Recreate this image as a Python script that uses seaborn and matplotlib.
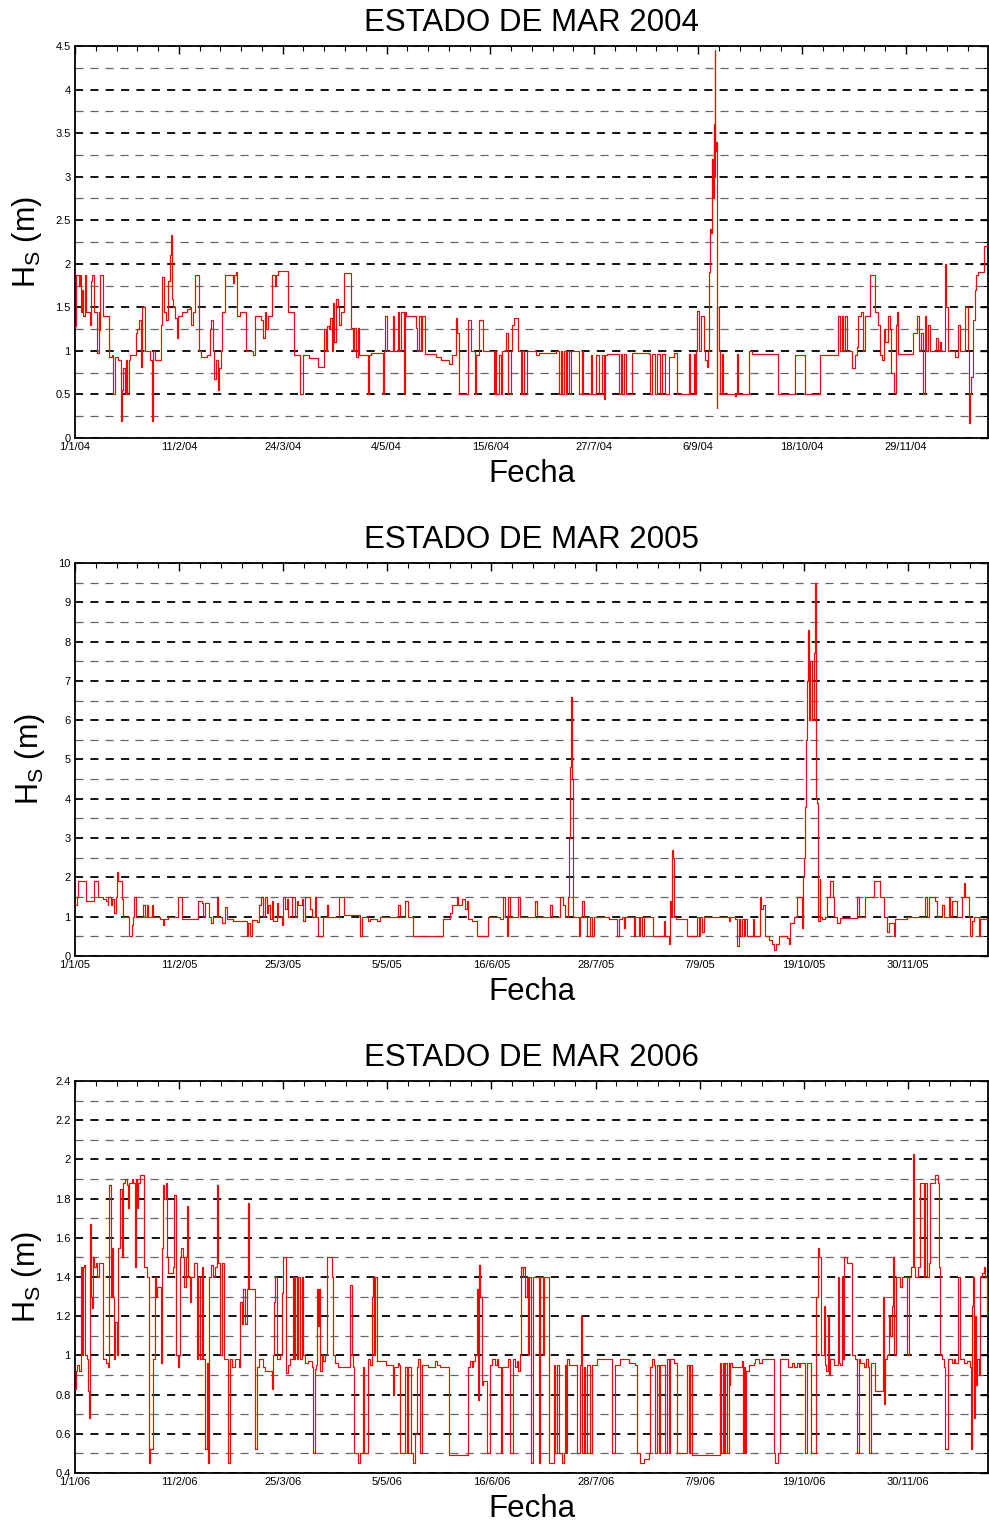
"""
Estado de mar 2004-2006: Hs series (step lines) on three stacked panels.
"""

import numpy as np
import pandas as pd
import matplotlib
matplotlib.use('Agg')
import matplotlib.pyplot as plt
import matplotlib.dates as mdates
from matplotlib.ticker import MultipleLocator, FuncFormatter
import seaborn as sns

# ── Data (day of year, Hs in metres) ─────────────────────────────────────────
days_2004 = [
    0.0, 0.4, 1.5, 2.0, 2.4, 2.9, 3.3, 3.9, 4.4, 6.0, 6.4, 6.9, 7.7, 8.8, 9.6, 9.8,
    10.0, 11.3, 13.7, 14.7, 15.3, 16.0, 17.3, 18.3, 18.7, 19.3, 20.0, 20.4, 20.9,
    21.5, 22.0, 24.4, 24.9, 25.7, 26.3, 26.7, 28.0, 30.0, 30.7, 31.3, 32.0, 34.3,
    34.9, 35.7, 36.3, 37.1, 38.0, 38.4, 38.9, 39.3, 40.0, 40.7, 41.1, 42.7, 44.7,
    46.0, 46.7, 47.3, 48.0, 49.6, 50.7, 53.1, 54.0, 54.7, 55.3, 55.7, 56.4, 57.3,
    57.6, 58.7, 59.1, 60.0, 63.3, 63.7, 64.7, 65.1, 66.0, 68.7, 71.3, 72.0, 74.7,
    75.3, 76.0, 76.7, 77.3, 79.1, 80.0, 80.7, 81.3, 85.3, 87.6, 90.0, 91.3, 94.0,
    97.3, 100.0, 100.7, 101.1, 101.7, 102.3, 102.9, 103.3, 104.0, 104.7, 105.3,
    106.0, 106.7, 107.7, 110.7, 111.3, 112.0, 112.7, 113.3, 114.0, 117.3, 117.7,
    118.7, 123.3, 123.7, 124.3, 125.1, 127.3, 128.0, 129.3, 130.0, 130.7, 132.0,
    132.4, 132.7, 136.7, 137.3, 138.0, 138.7, 139.3, 140.4, 144.7, 146.7, 150.0,
    151.3, 152.7, 153.3, 154.0, 157.7, 158.7, 160.3, 160.7, 162.0, 163.6, 168.0,
    168.4, 168.9, 170.0, 170.7, 171.3, 172.9, 173.6, 174.7, 175.3, 176.0, 177.6,
    178.7, 179.3, 180.0, 181.3, 185.0, 186.0, 192.7, 194.0, 194.7, 195.3, 196.0,
    196.7, 197.3, 198.0, 198.7, 202.0, 203.3, 203.7, 206.7, 207.3, 208.7, 210.0,
    211.3, 212.0, 212.4, 213.3, 218.0, 218.7, 219.3, 220.0, 221.0, 223.3, 230.0,
    230.7, 231.3, 232.7, 233.3, 234.7, 235.3, 236.7, 238.0, 240.0, 241.3, 246.3,
    246.7, 248.0, 248.4, 248.9, 249.3, 250.0, 251.0, 252.0, 252.7, 253.3, 253.7,
    254.3, 254.7, 255.1, 255.3, 255.7, 256.0, 256.3, 256.4, 256.7, 256.9, 257.2,
    257.5, 258.0, 258.4, 259.3, 259.7, 264.7, 265.0, 265.3, 265.7, 270.0, 271.3,
    282.0, 288.7, 292.7, 298.7, 305.7, 306.0, 306.7, 307.3, 308.0, 308.7, 309.3,
    311.3, 312.7, 313.3, 314.0, 315.0, 316.0, 316.7, 318.7, 320.7, 322.0, 322.7,
    323.5, 324.4, 324.7, 326.0, 326.7, 327.3, 328.4, 329.1, 329.6, 330.0, 336.0,
    337.7, 338.3, 339.3, 340.0, 340.7, 341.3, 342.0, 342.7, 345.3, 346.0, 346.7,
    347.3, 348.7, 349.3, 350.0, 352.7, 354.0, 354.7, 356.7, 358.0, 358.4, 358.9,
    359.3, 360.0, 360.7, 361.3, 362.0, 364.4, 366.0,
]
hs_2004 = [
    1.28, 1.87, 1.75, 1.87, 1.45, 1.70, 1.40, 1.87, 1.45, 1.30, 1.80, 1.87, 1.45, 0.98, 1.45, 1.24,
    1.87, 1.40, 0.93, 0.95, 0.50, 0.93, 0.90, 0.20, 0.55, 0.80, 0.50, 0.90, 0.50,
    0.90, 0.95, 1.20, 1.25, 1.35, 0.82, 1.50, 1.00, 0.90, 0.20, 1.00, 0.90, 1.30,
    1.85, 1.45, 1.35, 1.80, 2.10, 2.33, 1.60, 1.50, 1.38, 1.15, 1.40, 1.45, 1.48,
    1.50, 1.30, 1.45, 1.87, 1.00, 0.93, 0.95, 1.25, 1.35, 1.00, 0.68, 0.90, 0.55,
    0.80, 1.00, 1.45, 1.87, 1.78, 1.87, 1.90, 1.40, 1.45, 1.00, 0.95, 1.40, 1.35,
    1.15, 1.45, 1.25, 1.40, 1.87, 1.75, 1.87, 1.92, 1.45, 0.95, 0.50, 0.95, 0.92,
    0.82, 1.25, 1.00, 1.28, 1.25, 1.38, 1.00, 1.55, 1.10, 1.60, 1.50,
    1.30, 1.45, 1.89, 1.26, 1.00, 1.26, 0.93, 1.26, 0.95, 0.50, 0.95,
    0.98, 0.50, 1.00, 1.40, 1.00, 1.40, 1.00, 1.45, 1.00, 1.45, 0.50,
    1.45, 1.40, 1.26, 1.00, 1.40, 1.00, 1.40, 0.97, 0.93, 0.90, 0.85,
    0.95, 1.38, 1.20, 0.50, 1.35, 1.00, 0.50, 0.95, 1.35, 1.00, 0.50,
    1.00, 0.50, 0.95, 0.50, 1.00, 1.20, 0.50, 1.00, 1.30, 1.38, 1.00,
    0.50, 1.00, 0.50, 1.00, 0.95, 0.98, 1.00, 0.50, 1.00, 0.50, 1.00,
    0.50, 1.00, 0.50, 1.00, 0.50, 1.00, 0.50, 0.95, 0.50, 0.95, 0.50,
    0.95, 0.45, 0.95, 0.97, 0.50, 0.97, 0.50, 0.97, 0.50, 0.98, 0.97,
    0.50, 0.97, 0.50, 0.97, 0.50, 0.97, 0.50, 0.93, 0.98, 0.50, 0.97,
    0.50, 0.97, 0.50, 1.00, 1.46, 1.00, 1.40, 1.00, 0.90, 0.82, 1.00,
    1.90, 2.40, 2.35, 3.20, 2.75, 3.60, 3.00, 4.45, 3.30, 3.40, 0.35,
    1.50, 1.00, 0.50, 0.97, 0.50, 0.48, 0.50, 0.97, 0.50, 1.00, 0.97,
    0.50, 0.95, 0.50, 0.95, 1.00, 1.40, 1.00, 1.40, 1.00, 1.40, 1.00,
    0.80, 0.95, 1.05, 1.40, 1.45, 1.00, 1.40, 1.87, 1.45, 1.30, 0.95,
    0.90, 1.25, 1.10, 1.40, 1.25, 0.75, 0.52, 1.30, 1.45, 0.97, 1.20,
    1.40, 1.00, 1.20, 0.50, 1.40, 1.00, 1.30, 1.00, 1.15, 1.00, 1.10,
    1.00, 2.00, 1.50, 1.00, 0.93, 1.30, 1.00, 1.50, 1.00, 0.17, 0.50,
    0.70, 1.35, 1.70, 1.87, 1.90, 2.20, 2.20,
]

days_2005 = [
    0.0, 0.7, 1.3, 4.4, 7.6, 9.3, 11.3, 12.4, 13.0, 13.3, 14.4, 14.9, 15.6, 16.3,
    16.7, 17.1, 18.7, 19.3, 21.7, 22.7, 23.3, 23.7, 24.3, 27.3, 28.0, 28.7, 29.3,
    30.7, 31.3, 34.0, 35.1, 35.6, 37.3, 41.3, 42.7, 49.3, 50.7, 51.3, 52.0, 53.7,
    54.4, 55.3, 56.7, 57.3, 58.7, 60.0, 60.7, 63.3, 68.7, 69.3, 70.0, 70.7, 72.7,
    73.7, 74.4, 75.3, 76.0, 76.7, 77.3, 78.0, 78.7, 79.3, 80.7, 81.3, 82.7, 83.3,
    84.0, 84.7, 85.3, 86.7, 88.0, 88.7, 89.3, 90.7, 91.3, 92.0, 94.0, 94.7, 96.0,
    96.4, 97.3, 99.3, 100.7, 101.3, 105.7, 107.6, 114.0, 114.7, 117.0, 118.0,
    120.7, 122.0, 129.3, 130.0, 132.0, 133.3, 135.3, 147.3, 150.0, 150.7, 152.7,
    153.3, 154.7, 156.0, 156.7, 157.3, 158.7, 160.7, 165.3, 170.0, 171.3, 172.0,
    172.7, 173.1, 174.0, 177.3, 178.0, 184.0, 184.7, 190.0, 190.7, 194.0, 195.1,
    196.0, 197.0, 197.5, 198.0, 198.4, 198.7, 199.0, 201.3, 201.7, 202.7, 203.6,
    204.7, 206.0, 206.7, 207.6, 213.3, 216.7, 217.3, 218.7, 219.3, 220.0, 223.3,
    223.7, 225.3, 225.7, 226.7, 227.3, 231.0, 235.3, 236.0, 237.3, 237.7, 238.3,
    238.7, 239.0, 239.6, 240.3, 244.7, 248.7, 249.3, 250.0, 250.7, 251.3, 256.0,
    261.3, 262.0, 264.0, 264.7, 265.3, 266.0, 266.7, 267.3, 268.0, 268.7, 271.0,
    271.3, 274.0, 274.4, 275.1, 275.7, 277.3, 278.7, 279.3, 280.3, 281.6, 284.7,
    285.3, 286.0, 287.3, 288.7, 290.7, 291.1, 291.6, 292.0, 292.4, 292.7, 293.2,
    293.6, 294.0, 294.5, 295.3, 296.0, 296.4, 296.8, 297.2, 297.7, 298.0, 298.7,
    300.0, 300.7, 302.0, 303.0, 303.6, 304.7, 306.0, 312.7, 313.3, 316.0, 319.6,
    321.7, 323.3, 324.7, 325.3, 327.3, 328.0, 332.7, 340.0, 340.7, 341.3, 344.0,
    344.7, 346.7, 347.3, 349.3, 350.0, 350.7, 352.7, 354.7, 355.3, 356.0, 357.3,
    358.0, 358.7, 359.3, 361.3, 362.0, 365.0,
]
hs_2005 = [
    1.30, 1.50, 1.90, 1.40, 1.90, 1.50, 1.45, 1.40, 1.30, 1.50, 1.30, 1.45, 1.10, 1.50,
    2.15, 1.90, 1.45, 1.00, 0.50, 0.80, 1.00, 1.50, 1.00, 1.30, 1.00, 1.30, 1.00,
    1.30, 1.00, 0.95, 0.80, 0.95, 1.00, 1.50, 0.95, 1.40, 1.35, 1.00, 1.35, 1.00,
    0.85, 0.98, 1.50, 0.98, 0.85, 1.25, 0.95, 0.90, 0.50, 0.85, 0.50, 0.92, 0.87,
    1.30, 1.50, 1.00, 1.50, 1.10, 1.30, 0.95, 1.40, 0.90, 1.35, 1.00, 0.80, 1.50,
    1.20, 1.45, 1.00, 1.50, 1.00, 1.40, 1.30, 1.45, 0.90, 1.50, 1.20, 1.00, 1.50,
    0.98, 0.50, 1.00, 1.30, 1.00, 1.50, 1.05, 0.50, 0.98, 0.90, 0.95,
    0.90, 1.00, 1.30, 1.00, 1.40, 1.00, 0.50, 0.95, 1.10, 1.30, 1.50,
    1.30, 1.45, 1.20, 1.40, 0.95, 0.90, 0.50, 1.00, 0.95, 1.50, 1.00,
    0.50, 1.50, 1.00, 1.50, 1.00, 1.40, 1.00, 1.30, 1.00, 1.50, 1.30,
    1.00, 1.50, 3.00, 4.80, 6.60, 4.50, 1.00, 0.50, 1.00, 1.40, 1.00,
    0.50, 1.00, 0.50, 0.98, 0.95, 0.50, 0.95, 0.98, 0.70, 1.00, 0.50,
    1.00, 0.50, 1.00, 0.50, 1.00, 0.50, 0.90, 0.50, 0.30, 1.40, 1.00,
    2.70, 2.50, 1.00, 0.95, 0.50, 1.00, 0.50, 1.00, 0.60, 1.00, 0.98,
    0.90, 1.00, 0.95, 0.25, 0.95, 0.50, 0.95, 0.50, 0.95, 0.50, 0.95,
    0.50, 1.50, 1.20, 1.30, 0.50, 0.40, 0.30, 0.15, 0.30, 0.50, 0.45,
    0.30, 0.85, 0.98, 1.50, 0.70, 2.00, 2.50, 3.80, 5.50, 7.00, 8.30,
    6.00, 7.50, 6.00, 7.70, 9.50, 4.00, 3.90, 0.90, 1.95, 1.00, 0.95,
    1.00, 1.50, 1.90, 1.50, 1.00, 0.85, 0.97, 1.50, 1.00, 1.50, 1.90,
    1.50, 1.00, 0.60, 0.85, 0.50, 0.95, 1.00, 1.50, 1.00, 1.50, 1.40,
    1.00, 1.30, 1.00, 1.50, 1.00, 1.40, 1.00, 1.50, 1.85, 1.50, 1.00,
    0.50, 0.90, 1.00, 0.50, 0.95, 0.95,
]

days_2006 = [
    0.0, 0.4, 0.9, 1.7, 2.3, 2.7, 3.1, 3.6, 4.0, 4.7, 5.1, 5.3, 5.7, 6.0, 6.4, 6.9,
    7.3, 7.7, 8.3, 8.7, 9.7, 11.3, 12.4, 13.0, 13.6, 14.3, 14.7, 15.1, 15.6, 16.0,
    16.7, 17.3, 18.0, 18.9, 19.3, 20.0, 20.7, 21.3, 21.7, 22.7, 23.3, 24.0, 24.4,
    24.9, 25.3, 26.0, 27.6, 28.9, 29.7, 30.0, 31.3, 32.0, 32.4, 32.9, 34.4, 34.9,
    35.3, 35.7, 36.3, 36.7, 37.3, 39.1, 39.6, 40.4, 41.1, 41.6, 42.0, 42.4, 43.1,
    43.7, 44.4, 44.8, 45.3, 46.0, 46.4, 47.7, 48.7, 49.3, 50.0, 50.7, 51.3, 52.0,
    52.7, 53.3, 53.7, 54.4, 55.3, 56.0, 56.7, 57.3, 58.0, 58.7, 59.6, 61.3, 62.0,
    62.7, 64.0, 65.7, 66.0, 66.7, 67.3, 68.0, 68.7, 69.3, 69.7, 72.0, 72.9, 73.6,
    75.3, 76.0, 78.7, 79.1, 79.6, 80.0, 80.7, 82.0, 82.7, 83.3, 84.4, 85.3, 86.0,
    87.0, 87.6, 88.0, 88.7, 89.3, 90.0, 90.7, 91.3, 92.0, 93.3, 94.7, 95.1, 96.0,
    96.4, 96.9, 97.3, 97.7, 98.0, 98.7, 99.3, 100.0, 100.7, 102.7, 103.3, 104.0,
    105.3, 110.0, 110.7, 111.3, 111.7, 113.3, 114.0, 115.1, 115.5, 117.3, 118.0,
    118.7, 119.3, 119.7, 120.0, 120.7, 120.9, 124.4, 127.3, 127.7, 129.0, 129.7,
    130.0, 132.0, 132.7, 133.3, 134.3, 135.3, 136.0, 136.7, 137.3, 138.0, 138.7,
    141.3, 144.0, 144.9, 146.0, 149.6, 157.3, 158.0, 158.7, 159.3, 160.0, 160.7,
    161.1, 161.6, 162.0, 162.7, 163.3, 164.7, 166.0, 166.7, 168.0, 168.7, 169.3,
    170.4, 170.8, 173.3, 174.0, 175.3, 176.0, 176.7, 177.3, 178.0, 178.3, 179.1,
    179.3, 180.0, 180.7, 181.3, 181.6, 182.4, 182.9, 185.3, 186.0, 186.9, 187.3,
    189.3, 191.3, 192.0, 192.7, 193.3, 194.7, 195.3, 196.0, 196.3, 196.7, 197.3,
    200.7, 202.0, 202.4, 202.8, 203.3, 204.0, 204.7, 206.0, 206.7, 208.7, 214.7,
    216.0, 218.0, 221.3, 224.0, 224.7, 226.0, 227.3, 229.3, 230.0, 230.7, 231.3,
    232.0, 232.7, 233.3, 234.0, 236.0, 236.7, 237.3, 238.0, 239.3, 240.7, 244.7,
    245.3, 246.0, 246.7, 258.0, 258.4, 259.1, 259.6, 260.0, 260.7, 261.3, 261.7,
    262.0, 262.7, 266.7, 267.1, 267.6, 268.0, 268.4, 269.3, 271.3, 272.0, 273.3,
    274.7, 279.3, 280.0, 281.1, 281.7, 284.9, 286.7, 287.3, 288.7, 289.3, 290.0,
    292.0, 292.7, 294.3, 296.4, 296.9, 297.6, 298.3, 299.3, 299.7, 300.4, 301.1,
    301.5, 302.0, 303.3, 305.0, 305.3, 306.0, 306.7, 307.1, 307.5, 308.7, 310.7,
    312.0, 312.7, 313.5, 314.0, 315.3, 316.3, 316.9, 317.3, 318.3, 320.0, 322.9,
    323.6, 324.0, 324.7, 325.5, 326.0, 326.7, 327.1, 327.6, 328.3, 330.0, 330.7,
    332.7, 333.3, 334.3, 334.9, 335.5, 336.0, 336.9, 338.0, 339.3, 340.0, 340.7,
    341.3, 342.0, 343.7, 344.9, 345.5, 346.0, 346.7, 347.3, 347.7, 348.9, 350.7,
    351.3, 352.0, 353.0, 353.7, 355.3, 356.7, 357.7, 358.3, 358.7, 359.1, 359.3,
    359.9, 360.3, 360.7, 361.3, 362.0, 362.7, 363.3, 364.0, 364.7, 365.0,
]
hs_2006 = [
    0.83, 0.92, 0.95, 0.92, 1.45, 1.00, 1.45, 1.46, 1.00, 0.98, 0.90, 0.82, 0.68, 1.67, 1.30, 1.24,
    1.50, 1.45, 1.47, 1.40, 1.47, 0.98, 0.96, 0.94, 1.87, 1.30, 1.55, 1.30, 0.98, 1.17,
    1.00, 1.55, 1.85, 1.50, 1.88, 1.90, 1.87, 1.75, 1.88, 1.90, 1.88, 1.45, 1.90,
    1.75, 1.88, 1.92, 1.45, 1.40, 0.45, 0.52, 0.98, 1.40, 1.30, 1.35, 0.96, 1.55,
    1.87, 1.80, 1.88, 1.50, 1.42, 1.45, 1.82, 1.00, 0.94, 1.00, 1.50, 1.55, 1.50,
    1.35, 1.50, 1.76, 1.40, 1.27, 1.40, 1.47, 0.98, 1.40, 0.98, 1.45, 0.98, 0.52,
    0.96, 0.45, 1.40, 1.46, 1.40, 1.45, 1.87, 1.47, 1.00, 1.47, 0.98, 0.45, 0.98,
    0.94, 0.98, 0.94, 1.27, 1.16, 1.34, 1.16, 1.34, 1.78, 1.34, 0.52, 0.94, 0.98,
    0.94, 0.92, 0.83, 1.00, 1.27, 1.40, 0.98, 1.00, 1.32, 1.50, 0.91, 0.95, 0.98,
    1.40, 0.98, 1.40, 0.98, 1.40, 0.98, 1.40, 1.00, 0.96, 0.97, 0.94, 0.50, 0.93,
    0.95, 1.34, 1.15, 1.34, 0.92, 1.00, 0.97, 1.00, 1.50, 1.40, 1.00, 0.96,
    0.94, 1.36, 1.00, 0.94, 0.50, 0.45, 0.50, 0.94, 0.50, 0.98, 0.95,
    1.30, 1.40, 1.00, 1.40, 1.35, 0.97, 0.95, 0.80, 0.94, 0.96, 0.95,
    0.50, 0.94, 0.50, 0.94, 0.50, 0.45, 0.60, 0.94, 0.98, 0.50, 0.95,
    0.94, 0.97, 0.95, 0.94, 0.49, 0.94, 0.97, 0.94, 0.97, 1.00, 1.34,
    0.77, 1.46, 1.30, 0.85, 0.87, 0.50, 0.95, 0.98, 0.95, 0.98, 0.94,
    0.50, 0.94, 0.98, 0.50, 0.98, 0.94, 0.97, 0.92, 1.00, 1.45, 1.40,
    1.45, 1.30, 1.40, 1.00, 1.40, 0.45, 1.40, 0.45, 1.40, 1.00, 1.40,
    0.45, 0.95, 0.50, 0.95, 0.50, 0.45, 0.50, 0.95, 0.50, 0.98, 0.95,
    0.50, 0.95, 1.20, 0.50, 0.94, 0.50, 0.95, 0.50, 0.95, 0.98, 0.50,
    0.95, 0.98, 0.96, 0.95, 0.50, 0.45, 0.47, 0.50, 0.94, 0.98, 0.95,
    0.50, 0.95, 0.50, 0.95, 0.50, 0.98, 0.50, 0.98, 0.96, 0.50, 0.95,
    0.50, 0.95, 0.49, 0.96, 0.50, 0.96, 0.50, 0.96, 0.50, 0.96, 0.85,
    0.96, 0.94, 0.97, 0.50, 0.94, 0.50, 0.92, 0.95, 0.96, 0.98, 0.96,
    0.98, 0.50, 0.45, 0.50, 0.98, 0.94, 0.96, 0.94, 0.96, 0.94, 0.96,
    0.50, 0.96, 0.50, 1.30, 1.55, 1.50, 1.00, 1.25, 0.95, 0.92, 1.20,
    0.90, 0.98, 0.95, 1.40, 0.96, 0.95, 1.40, 0.98, 1.50, 1.47, 1.00,
    0.98, 0.50, 0.98, 0.96, 0.94, 0.98, 0.94, 0.50, 0.96, 0.82, 1.30,
    0.75, 0.98, 1.00, 1.20, 1.10, 1.25, 1.50, 1.00, 1.40, 1.35, 1.40,
    1.00, 1.40, 1.45, 2.03, 1.45, 1.40, 1.45, 1.88, 1.40, 1.88, 1.40,
    1.47, 1.88, 1.92, 1.88, 1.45, 1.00, 0.98, 0.94, 0.52, 0.98, 0.96,
    0.98, 0.96, 1.40, 0.98, 0.96, 0.97, 0.94, 0.52, 1.25, 1.40, 0.68,
    1.20, 0.85, 0.98, 0.90, 1.40, 1.42, 1.45, 1.40, 1.20, 1.20,
]

YEARS  = [2004, 2005, 2006]
DAYS   = [days_2004, days_2005, days_2006]
HS     = [hs_2004, hs_2005, hs_2006]
YLIMS  = [(0, 4.5), (0, 10), (0.4, 2.4)]
YSTEPS = [0.5, 1.0, 0.2]
TICK_DAYS = 41.625          # spacing of the date ticks (days)

# ── Layout (figure fractions) ────────────────────────────────────────────────
W, H = 989, 1525
AX_LEFT, AX_RIGHT = 75 / W, 988 / W
AX_ROWS = [(46, 438), (563, 956), (1081, 1473)]   # top / bottom pixel rows

sns.set_theme(style='white')
plt.rcParams['font.family'] = ['Liberation Sans', 'DejaVu Sans']
plt.rcParams['mathtext.fontset'] = 'custom'
plt.rcParams['mathtext.rm'] = 'Liberation Sans'
plt.rcParams['mathtext.it'] = 'Liberation Sans'
plt.rcParams['text.color'] = 'black'
plt.rcParams['axes.labelcolor'] = 'black'

fig = plt.figure(figsize=(W / 100, H / 100), dpi=100)
fig.patch.set_facecolor('white')


def date_label(x, pos=None):
    d = mdates.num2date(x)
    return f'{d.day}/{d.month}/{d.strftime("%y")}'


for year, days, hs, ylim, ystep, (top, bot) in zip(YEARS, DAYS, HS, YLIMS, YSTEPS, AX_ROWS):
    ax = fig.add_axes([AX_LEFT, 1 - bot / H, AX_RIGHT - AX_LEFT, (bot - top) / H])
    start = pd.Timestamp(f'{year}-01-01')
    end = pd.Timestamp(f'{year + 1}-01-01')
    df = pd.DataFrame({'fecha': start + pd.to_timedelta(days, unit='D'), 'hs': hs})

    sns.lineplot(data=df, x='fecha', y='hs', ax=ax, color='#ff0000', lw=0.85,
                 drawstyle='steps-post', estimator=None, sort=False, zorder=3)

    ax.set_xlim(start, end)
    ax.set_ylim(*ylim)

    # date ticks, 5 minor steps per major step
    major = [start + pd.Timedelta(days=TICK_DAYS * k) for k in range(9)]
    minor = [start + pd.Timedelta(days=TICK_DAYS / 5 * k) for k in range(45)]
    ax.set_xticks(major)
    ax.set_xticks([m for m in minor if m < end], minor=True)
    ax.xaxis.set_major_formatter(FuncFormatter(date_label))

    ax.yaxis.set_major_locator(MultipleLocator(ystep))
    ax.yaxis.set_minor_locator(MultipleLocator(ystep / 2))
    ax.yaxis.set_major_formatter(FuncFormatter(lambda v, p: f'{v:g}'))

    ax.grid(False)
    ax.yaxis.grid(True, which='major', color='black', lw=1.3, linestyle=(0, (4.5, 4.0)))
    ax.yaxis.grid(True, which='minor', color='#666666', lw=0.9, linestyle=(0, (6.5, 5.5)))
    ax.set_axisbelow(True)

    ax.tick_params(which='both', direction='in', top=True, right=True,
                   labelsize=8, colors='black', pad=3)
    ax.tick_params(which='major', length=6, width=1.0)
    ax.tick_params(which='minor', length=3.5, width=0.8)
    for s in ax.spines.values():
        s.set_color('black')
        s.set_linewidth(1.3)

    ax.set_title(f'ESTADO DE MAR {year}', fontsize=22.5, pad=11)
    ax.set_xlabel('Fecha', fontsize=22.5, labelpad=5)
    ax.set_ylabel(r'H$_\mathregular{S}$ (m)', fontsize=22, labelpad=8)

fig.savefig('out.png', dpi=100, facecolor='white')
